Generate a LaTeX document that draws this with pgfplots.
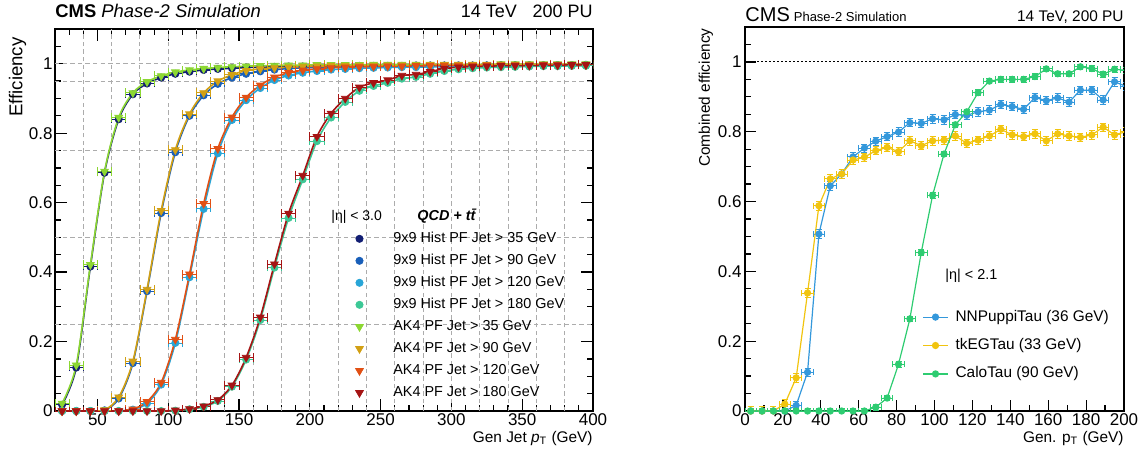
\documentclass[border=0pt]{standalone}
\usepackage{fontspec}
\setmainfont{Liberation Sans}
\usepackage{pgfplots}
\pgfplotsset{compat=1.18}
\usepackage{pgfplotstable}

\definecolor{cHa}{RGB}{18,30,115}
\definecolor{cHb}{RGB}{25,95,185}
\definecolor{cHc}{RGB}{40,165,215}
\definecolor{cHd}{RGB}{60,200,150}
\definecolor{cAa}{RGB}{140,215,50}
\definecolor{cAb}{RGB}{210,160,20}
\definecolor{cAc}{RGB}{225,80,20}
\definecolor{cAd}{RGB}{165,20,20}
\definecolor{cNN}{RGB}{52,152,219}
\definecolor{cEG}{RGB}{241,196,15}
\definecolor{cCa}{RGB}{46,204,113}

\pgfplotstableread{
x   Ha    Hb    Hc    Hd    Aa    Ab    Ac    Ad
25  0.018 0.000 0.000 0.000 0.022 0.000 0.000 0.000
35  0.125 0.000 0.000 0.000 0.132 0.000 0.000 0.000
45  0.416 0.000 0.000 0.000 0.421 0.000 0.000 0.000
55  0.686 0.002 0.000 0.000 0.690 0.003 0.000 0.000
65  0.840 0.036 0.000 0.000 0.845 0.040 0.000 0.000
75  0.912 0.138 0.004 0.000 0.916 0.143 0.005 0.000
85  0.943 0.345 0.022 0.000 0.948 0.350 0.027 0.000
95  0.960 0.570 0.076 0.000 0.965 0.577 0.082 0.000
105 0.971 0.745 0.196 0.001 0.976 0.752 0.206 0.002
115 0.977 0.850 0.385 0.005 0.982 0.855 0.394 0.006
125 0.982 0.909 0.582 0.012 0.986 0.916 0.597 0.014
135 0.985 0.942 0.742 0.029 0.989 0.950 0.755 0.032
145 0.987 0.960 0.838 0.070 0.991 0.968 0.846 0.074
155 0.989 0.971 0.895 0.148 0.993 0.980 0.903 0.154
165 0.990 0.978 0.930 0.262 0.994 0.985 0.938 0.270
175 0.991 0.983 0.953 0.413 0.995 0.988 0.961 0.423
185 0.992 0.986 0.966 0.556 0.996 0.990 0.974 0.569
195 0.992 0.988 0.974 0.667 0.996 0.992 0.981 0.678
205 0.993 0.989 0.979 0.777 0.997 0.993 0.985 0.790
215 0.993 0.990 0.983 0.845 0.997 0.994 0.988 0.857
225 0.993 0.991 0.985 0.890 0.997 0.994 0.990 0.900
235 0.994 0.992 0.987 0.922 0.997 0.995 0.991 0.932
245 0.994 0.992 0.988 0.936 0.998 0.995 0.992 0.945
255 0.994 0.993 0.989 0.945 0.998 0.996 0.993 0.953
265 0.994 0.993 0.990 0.957 0.998 0.996 0.993 0.966
275 0.995 0.993 0.990 0.962 0.998 0.996 0.994 0.969
285 0.995 0.994 0.991 0.971 0.998 0.997 0.994 0.977
295 0.995 0.994 0.991 0.979 0.998 0.997 0.995 0.986
305 0.995 0.994 0.992 0.984 0.998 0.997 0.995 0.990
315 0.995 0.994 0.992 0.987 0.998 0.997 0.995 0.992
325 0.995 0.995 0.992 0.989 0.998 0.997 0.996 0.993
335 0.996 0.995 0.993 0.990 0.999 0.998 0.996 0.994
345 0.996 0.995 0.993 0.991 0.999 0.998 0.996 0.995
355 0.996 0.995 0.993 0.992 0.999 0.998 0.996 0.995
365 0.996 0.995 0.994 0.993 0.999 0.998 0.997 0.996
375 0.996 0.996 0.994 0.993 0.999 0.998 0.997 0.996
385 0.996 0.996 0.994 0.994 0.999 0.998 0.997 0.997
395 0.997 0.996 0.995 0.994 0.999 0.998 0.997 0.997
}\lefttab

\pgfplotstableread{
x   NN    EG    Ca
3   0.000 0.000 0.000
9   0.000 0.000 0.000
15  0.000 0.000 0.000
21  0.000 0.020 0.000
27  0.016 0.095 0.000
33  0.111 0.338 0.000
39  0.507 0.588 0.000
45  0.645 0.665 0.000
51  0.679 0.679 0.000
57  0.728 0.719 0.000
63  0.753 0.727 0.000
69  0.773 0.746 0.011
75  0.786 0.755 0.037
81  0.799 0.743 0.134
87  0.826 0.774 0.264
93  0.824 0.760 0.454
99  0.837 0.774 0.618
105 0.834 0.776 0.736
111 0.849 0.788 0.820
117 0.847 0.767 0.857
123 0.857 0.776 0.912
129 0.862 0.788 0.945
135 0.878 0.807 0.950
141 0.872 0.791 0.950
147 0.864 0.786 0.950
153 0.898 0.794 0.958
159 0.889 0.774 0.980
165 0.897 0.794 0.966
171 0.885 0.788 0.966
177 0.919 0.784 0.986
183 0.919 0.791 0.981
189 0.891 0.813 0.965
195 0.943 0.791 0.979
201 0.930 0.800 0.976
}\righttab

\begin{document}
\begin{tikzpicture}
\useasboundingbox (0,0) rectangle (572.5pt,225pt);

% ---------------- left panel ----------------
\begin{axis}[
  at={(27.5pt,19.5pt)}, anchor=south west,
  width=269pt, height=191pt, scale only axis,
  xmin=20, xmax=400, ymin=0, ymax=1.1,
  xtick={50,100,...,400}, minor xtick={20,30,...,400},
  ytick={0,0.2,0.4,0.6,0.8,1}, minor ytick={0,0.05,...,1.1},
  major tick length=6pt, minor tick length=3pt,
  tick style={black, line width=0.6pt},
  axis line style={line width=0.7pt},
  /pgf/number format/assume math mode=true,
  ticklabel style={font=\fontsize{8.5}{10}\selectfont},
  xticklabel style={inner sep=1pt},
  yticklabel style={inner sep=1pt},
  extra x ticks={40,60,...,380}, extra x tick labels={},
  extra x tick style={grid=major, major tick length=0pt},
  extra y ticks={0.25,0.5,0.75,0.95,1}, extra y tick labels={},
  extra y tick style={grid=major, major tick length=0pt},
  major grid style={gray!65, dash pattern=on 2.2pt off 1.6pt, line width=0.5pt},
  legend cell align=left,
  legend style={at={(rel axis cs:0.547,0.4806)}, anchor=north west,
    draw=none, fill=none, font=\fontsize{7.2}{8.5}\selectfont,
    row sep=4pt, nodes={inner sep=0pt, text height=5.5pt, text depth=1.5pt},
    /tikz/every odd column/.append style={column sep=15pt}},
]
\addplot[cHa, line width=0.8pt, smooth, forget plot] table[x=x,y=Ha]{\lefttab};
\addplot[cHb, line width=0.8pt, smooth, forget plot] table[x=x,y=Hb]{\lefttab};
\addplot[cHc, line width=0.8pt, smooth, forget plot] table[x=x,y=Hc]{\lefttab};
\addplot[cHd, line width=0.8pt, smooth, forget plot] table[x=x,y=Hd]{\lefttab};
\addplot[cHa, only marks, mark=*, mark size=1.8pt, error bars/.cd, x dir=both, x fixed=5] table[x=x,y=Ha]{\lefttab};
\addlegendentry{9x9 Hist PF Jet > 35 GeV}
\addplot[cHb, only marks, mark=*, mark size=1.8pt, error bars/.cd, x dir=both, x fixed=5] table[x=x,y=Hb]{\lefttab};
\addlegendentry{9x9 Hist PF Jet > 90 GeV}
\addplot[cHc, only marks, mark=*, mark size=1.8pt, error bars/.cd, x dir=both, x fixed=5] table[x=x,y=Hc]{\lefttab};
\addlegendentry{9x9 Hist PF Jet > 120 GeV}
\addplot[cHd, only marks, mark=*, mark size=1.8pt, error bars/.cd, x dir=both, x fixed=5] table[x=x,y=Hd]{\lefttab};
\addlegendentry{9x9 Hist PF Jet > 180 GeV}
\addplot[cAa, line width=0.8pt, smooth, forget plot] table[x=x,y=Aa]{\lefttab};
\addplot[cAb, line width=0.8pt, smooth, forget plot] table[x=x,y=Ab]{\lefttab};
\addplot[cAc, line width=0.8pt, smooth, forget plot] table[x=x,y=Ac]{\lefttab};
\addplot[cAd, line width=0.8pt, smooth, forget plot] table[x=x,y=Ad]{\lefttab};
\addplot[cAa, only marks, mark=triangle*, mark size=2.2pt, mark options={rotate=180}, error bars/.cd, x dir=both, x fixed=5] table[x=x,y=Aa]{\lefttab};
\addlegendentry{AK4 PF Jet > 35 GeV}
\addplot[cAb, only marks, mark=triangle*, mark size=2.2pt, mark options={rotate=180}, error bars/.cd, x dir=both, x fixed=5] table[x=x,y=Ab]{\lefttab};
\addlegendentry{AK4 PF Jet > 90 GeV}
\addplot[cAc, only marks, mark=triangle*, mark size=2.2pt, mark options={rotate=180}, error bars/.cd, x dir=both, x fixed=5] table[x=x,y=Ac]{\lefttab};
\addlegendentry{AK4 PF Jet > 120 GeV}
\addplot[cAd, only marks, mark=triangle*, mark size=2.2pt, mark options={rotate=180}, error bars/.cd, x dir=both, x fixed=5] table[x=x,y=Ad]{\lefttab};
\addlegendentry{AK4 PF Jet > 180 GeV}
\end{axis}

% ---------------- right panel ----------------
\begin{axis}[
  at={(372.5pt,19.5pt)}, anchor=south west,
  width=189.5pt, height=192pt, scale only axis,
  xmin=0, xmax=200, ymin=0, ymax=1.1,
  xtick={0,20,...,200}, minor xtick={10,30,...,190},
  ytick={0,0.2,0.4,0.6,0.8,1}, minor ytick={0,0.05,...,1.1},
  xtick pos=bottom, ytick pos=left,
  major tick length=5.5pt, minor tick length=2.8pt,
  tick style={black, line width=0.6pt},
  axis line style={line width=0.7pt},
  /pgf/number format/assume math mode=true,
  ticklabel style={font=\fontsize{8.5}{10}\selectfont},
  xticklabel style={inner sep=1pt},
  yticklabel style={inner sep=1.5pt},
  legend cell align=left,
  legend image code/.code={\draw[mark repeat=2, mark phase=2, #1] plot coordinates {(0pt,0pt) (6.25pt,0pt) (12.5pt,0pt)};},
  legend style={at={(rel axis cs:0.4512,0.2742)}, anchor=north west,
    draw=none, fill=none, font=\fontsize{7.7}{9}\selectfont,
    row sep=7.2pt, nodes={inner sep=0pt, text height=5.5pt, text depth=1.5pt},
    /tikz/every odd column/.append style={column sep=3.5pt}},
]
\draw[black, line width=0.5pt, dash pattern=on 1pt off 1pt] (axis cs:0,1) -- (axis cs:200,1);
\addplot[cNN, mark=*, mark size=1.5pt, line width=0.6pt, error bars/.cd, x dir=both, x fixed=3, y dir=both, y fixed=0.012] table[x=x,y=NN]{\righttab};
\addlegendentry{NNPuppiTau (36 GeV)}
\addplot[cEG, mark=*, mark size=1.5pt, line width=0.6pt, error bars/.cd, x dir=both, x fixed=3, y dir=both, y fixed=0.012] table[x=x,y=EG]{\righttab};
\addlegendentry{tkEGTau (33 GeV)}
\addplot[cCa, mark=*, mark size=1.5pt, line width=0.6pt, error bars/.cd, x dir=both, x fixed=3, y dir=both, y fixed=0.008] table[x=x,y=Ca]{\righttab};
\addlegendentry{CaloTau (90 GeV)}
\end{axis}

% ---------------- texts ----------------
\node[anchor=base west, inner sep=0pt, font=\fontsize{9.2}{11}\selectfont] at (27.5pt,216pt) {\textbf{CMS} \textit{Phase-2 Simulation}};
\node[anchor=base east, inner sep=0pt, font=\fontsize{9}{11}\selectfont] at (296.5pt,216pt) {14 TeV\hspace{7.8pt}200 PU};
\node[anchor=base east, inner sep=0pt, font=\fontsize{7.7}{9}\selectfont] at (296.5pt,4pt) {Gen Jet \textit{p}\textsubscript{T} (GeV)};
\node[rotate=90, anchor=east, inner sep=0pt, font=\fontsize{9.3}{11}\selectfont] at (8.75pt,206.5pt) {Efficiency};
\node[anchor=base west, inner sep=0pt, font=\fontsize{7}{8}\selectfont] at (165.5pt,114.65pt) {|η| < 3.0};
\node[anchor=base west, inner sep=0pt, font=\fontsize{7.2}{8}\selectfont] at (208.5pt,114.65pt) {\textbf{\textit{QCD + t\={t}}}};

\node[anchor=base west, inner sep=0pt] at (372.5pt,214.2pt) {{\fontsize{10}{12}\selectfont CMS}\hspace{2pt}{\fontsize{6.5}{8}\selectfont Phase-2 Simulation}};
\node[anchor=base east, inner sep=0pt, font=\fontsize{7.7}{9}\selectfont] at (562pt,214.2pt) {14 TeV, 200 PU};
\node[anchor=base east, inner sep=0pt, font=\fontsize{7.7}{9}\selectfont] at (562pt,4pt) {Gen. p\textsubscript{T} (GeV)};
\node[rotate=90, anchor=east, inner sep=0pt, font=\fontsize{7.7}{9}\selectfont] at (353pt,211pt) {Combined efficiency};
\node[anchor=base west, inner sep=0pt, font=\fontsize{7.2}{8}\selectfont] at (472.5pt,85.35pt) {|η| < 2.1};
\end{tikzpicture}
\end{document}
